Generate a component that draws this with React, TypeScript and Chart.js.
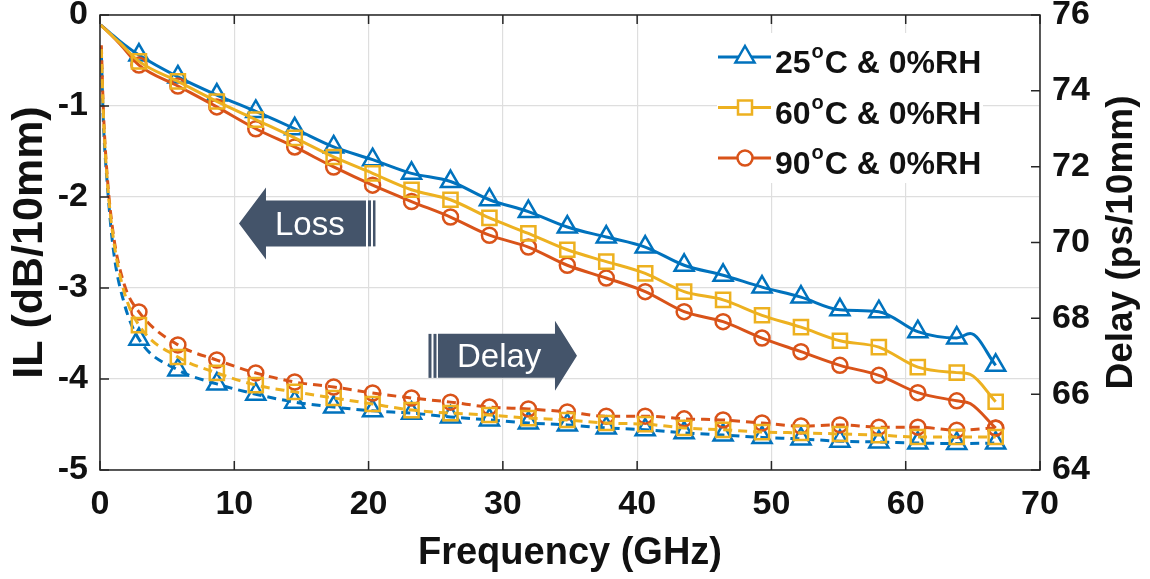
import React, { useEffect, useRef } from "react";
import { Chart, registerables } from "chart.js";

Chart.register(...registerables);

// ---------- data ----------
const markerFreq = [2.9, 5.8, 8.7, 11.6, 14.5, 17.4, 20.3, 23.2, 26.1, 29.0, 31.9, 34.8, 37.7, 40.6, 43.5, 46.4, 49.3, 52.2, 55.1, 58.0, 60.9, 63.8, 66.7];

const loss25 = [-0.44, -0.68, -0.88, -1.06, -1.25, -1.45, -1.59, -1.74, -1.83, -2.03, -2.16, -2.33, -2.44, -2.55, -2.75, -2.86, -2.99, -3.10, -3.24, -3.26, -3.48, -3.55, -3.85];
const loss60 = [-0.51, -0.73, -0.95, -1.15, -1.35, -1.56, -1.74, -1.92, -2.03, -2.23, -2.40, -2.58, -2.71, -2.84, -3.04, -3.13, -3.30, -3.43, -3.58, -3.65, -3.87, -3.93, -4.25];
const loss90 = [-0.55, -0.78, -1.01, -1.25, -1.45, -1.67, -1.87, -2.05, -2.22, -2.42, -2.55, -2.75, -2.89, -3.04, -3.26, -3.37, -3.55, -3.70, -3.85, -3.96, -4.15, -4.24, -4.54];

const delay25 = [67.45, 66.64, 66.27, 66.00, 65.79, 65.66, 65.56, 65.50, 65.40, 65.32, 65.24, 65.19, 65.11, 65.06, 64.98, 64.92, 64.86, 64.82, 64.76, 64.74, 64.71, 64.70, 64.71];
const delay60 = [67.82, 66.98, 66.56, 66.24, 66.06, 65.90, 65.74, 65.58, 65.50, 65.45, 65.37, 65.32, 65.24, 65.21, 65.11, 65.06, 65.00, 64.98, 64.95, 64.92, 64.87, 64.87, 64.87];
const delay90 = [68.17, 67.30, 66.90, 66.56, 66.32, 66.19, 66.03, 65.90, 65.79, 65.66, 65.61, 65.53, 65.42, 65.42, 65.35, 65.32, 65.24, 65.16, 65.19, 65.13, 65.13, 65.05, 65.11];

// curve points between 0 GHz and the first marker (no marker drawn)
const lossHeadFreq = [0.05, 0.7, 1.5];
const lossHead25 = [-0.11, -0.19, -0.29];
const lossHead60 = [-0.11, -0.2, -0.31];
const lossHead90 = [-0.11, -0.2, -0.32];

// knee just before the last marker (no marker drawn)
const lossKneeFreq = [64.8];
const lossKnee25 = [-3.5];
const lossKnee60 = [-3.95];
const lossKnee90 = [-4.27];

const delayHeadFreq = [0.1, 0.25, 0.55, 1.0, 1.8];
const delayHead25 = [75.0, 73.2, 71.5, 69.8, 68.4];
const delayHead60 = [75.1, 73.4, 71.6, 70.1, 68.7];
const delayHead90 = [75.2, 73.5, 71.7, 70.2, 68.9];

const legendTemps = ["25", "60", "90"];
const legendSuffix = "C & 0%RH";

const C25 = "#0072BD";
const C60 = "#EDB120";
const C90 = "#D95319";
const ARROW = "#44546A";
const FONT = "'Liberation Sans', Arial, Helvetica, sans-serif";

type P = { x: number; y: number; m: boolean };

function buildSeries(headX: number[], headY: number[], markY: number[], extraX: number[] = [], extraY: number[] = []): P[] {
  const pts: P[] = [];
  headX.forEach((x, i) => pts.push({ x, y: headY[i], m: false }));
  markerFreq.forEach((x, i) => pts.push({ x, y: markY[i], m: true }));
  extraX.forEach((x, i) => pts.push({ x, y: extraY[i], m: false }));
  pts.sort((a, b) => a.x - b.x);
  return pts;
}

function makeDataset(label: string, data: P[], color: string, style: string, radius: number, yAxisID: string, dashed: boolean, order: number) {
  return {
    label,
    data,
    yAxisID,
    order,
    borderColor: color,
    backgroundColor: color,
    borderWidth: 3,
    borderDash: dashed ? [9, 6] : [],
    cubicInterpolationMode: "monotone" as const,
    fill: false,
    pointStyle: style,
    pointRadius: (c: any) => (c.raw && c.raw.m ? radius : 0),
    pointHoverRadius: (c: any) => (c.raw && c.raw.m ? radius : 0),
    pointBorderColor: color,
    pointBackgroundColor: "rgba(255,255,255,0)",
    pointBorderWidth: 2.5,
  };
}

function drawMarker(ctx: CanvasRenderingContext2D, style: string, cx: number, cy: number) {
  ctx.beginPath();
  if (style === "triangle") {
    const r = 11;
    ctx.moveTo(cx, cy - r);
    ctx.lineTo(cx + r * 0.866, cy + r / 2);
    ctx.lineTo(cx - r * 0.866, cy + r / 2);
    ctx.closePath();
  } else if (style === "rect") {
    ctx.rect(cx - 7, cy - 7, 14, 14);
  } else {
    ctx.arc(cx, cy, 7.5, 0, Math.PI * 2);
  }
  ctx.fillStyle = "#fff";
  ctx.fill();
  ctx.stroke();
}

function arrowLeft(ctx: CanvasRenderingContext2D, tx: number, ty: number, text: string) {
  ctx.fillStyle = ARROW;
  ctx.beginPath();
  ctx.moveTo(tx, ty);
  ctx.lineTo(tx + 27, ty - 36);
  ctx.lineTo(tx + 27, ty - 23);
  ctx.lineTo(tx + 127, ty - 23);
  ctx.lineTo(tx + 127, ty + 23);
  ctx.lineTo(tx + 27, ty + 23);
  ctx.lineTo(tx + 27, ty + 36);
  ctx.closePath();
  ctx.fill();
  ctx.fillRect(tx + 129, ty - 23, 3, 46);
  ctx.fillRect(tx + 134, ty - 23, 2.5, 46);
  ctx.fillStyle = "#fff";
  ctx.font = `33px ${FONT}`;
  ctx.textAlign = "left";
  ctx.textBaseline = "alphabetic";
  ctx.fillText(text, tx + 36, ty + 12);
}

function arrowRight(ctx: CanvasRenderingContext2D, tx: number, ty: number, text: string) {
  ctx.fillStyle = ARROW;
  ctx.beginPath();
  ctx.moveTo(tx, ty);
  ctx.lineTo(tx - 22, ty - 35);
  ctx.lineTo(tx - 22, ty - 22);
  ctx.lineTo(tx - 139, ty - 22);
  ctx.lineTo(tx - 139, ty + 22);
  ctx.lineTo(tx - 22, ty + 22);
  ctx.lineTo(tx - 22, ty + 35);
  ctx.closePath();
  ctx.fill();
  ctx.fillRect(tx - 143.5, ty - 22, 3, 44);
  ctx.fillRect(tx - 148.5, ty - 22, 3, 44);
  ctx.fillStyle = "#fff";
  ctx.font = `33px ${FONT}`;
  ctx.textAlign = "left";
  ctx.textBaseline = "alphabetic";
  ctx.fillText(text, tx - 120, ty + 11);
}

const decorPlugin = {
  id: "decor",
  afterDatasetsDraw(chart: any) {
    const { ctx, chartArea: a, scales } = chart;
    const x = scales.x;
    const yL = scales.y;
    const yR = scales.y2;
    ctx.save();

    // annotation arrows
    arrowLeft(ctx, x.getPixelForValue(10.35), yL.getPixelForValue(-2.29), "Loss");
    arrowRight(ctx, x.getPixelForValue(35.52), yR.getPixelForValue(67.01), "Delay");

    // axes box
    ctx.strokeStyle = "#262626";
    ctx.lineWidth = 1.5;
    ctx.setLineDash([]);
    ctx.strokeRect(a.left, a.top, a.right - a.left, a.bottom - a.top);

    // inward tick marks
    ctx.beginPath();
    x.ticks.forEach((t: any) => {
      const px = x.getPixelForValue(t.value);
      ctx.moveTo(px, a.bottom);
      ctx.lineTo(px, a.bottom - 9);
      ctx.moveTo(px, a.top);
      ctx.lineTo(px, a.top + 9);
    });
    yL.ticks.forEach((t: any) => {
      const py = yL.getPixelForValue(t.value);
      ctx.moveTo(a.left, py);
      ctx.lineTo(a.left + 9, py);
    });
    yR.ticks.forEach((t: any) => {
      const py = yR.getPixelForValue(t.value);
      ctx.moveTo(a.right, py);
      ctx.lineTo(a.right - 9, py);
    });
    ctx.stroke();

    // legend
    const lgL = a.right - 323;
    const lgT = a.top + 18;
    ctx.fillStyle = "#fff";
    ctx.fillRect(lgL, lgT, 266, 150);
    const colors = [C25, C60, C90];
    const styles = ["triangle", "rect", "circle"];
    legendTemps.forEach((temp, i) => {
      const ry = lgT + 24 + i * 50.5;
      ctx.strokeStyle = colors[i];
      ctx.lineWidth = 3;
      ctx.beginPath();
      ctx.moveTo(lgL + 1, ry);
      ctx.lineTo(lgL + 54, ry);
      ctx.stroke();
      ctx.lineWidth = 2.5;
      drawMarker(ctx, styles[i], lgL + 28, ry);
      ctx.fillStyle = "#111";
      ctx.textAlign = "left";
      ctx.textBaseline = "alphabetic";
      ctx.font = `bold 32px ${FONT}`;
      let tx = lgL + 58;
      ctx.fillText(temp, tx, ry + 16);
      tx += ctx.measureText(temp).width + 1;
      ctx.font = `bold 20px ${FONT}`;
      ctx.fillText("o", tx, ry + 1);
      tx += ctx.measureText("o").width + 1;
      ctx.font = `bold 32px ${FONT}`;
      ctx.fillText(legendSuffix, tx, ry + 16);
    });

    // right axis title (reads bottom-to-top)
    ctx.fillStyle = "#111";
    ctx.font = `bold 37px ${FONT}`;
    ctx.textAlign = "center";
    ctx.textBaseline = "middle";
    ctx.translate(1122, (a.top + a.bottom) / 2);
    ctx.rotate(-Math.PI / 2);
    ctx.fillText("Delay (ps/10mm)", 0, 0);

    ctx.restore();
  },
};

const tickFont = { family: FONT, size: 34, weight: "bold" as const };
const gridColor = "#dedede";

export default function App() {
  const ref = useRef<HTMLCanvasElement>(null);

  useEffect(() => {
    const canvas = ref.current;
    if (!canvas) return;

    const datasets = [
      makeDataset("25°C & 0%RH", buildSeries(lossHeadFreq, lossHead25, loss25, lossKneeFreq, lossKnee25), C25, "triangle", 11, "y", false, 3),
      makeDataset("25°C delay", buildSeries(delayHeadFreq, delayHead25, delay25), C25, "triangle", 11, "y2", true, 3),
      makeDataset("90°C & 0%RH", buildSeries(lossHeadFreq, lossHead90, loss90, lossKneeFreq, lossKnee90), C90, "circle", 7.5, "y", false, 2),
      makeDataset("90°C delay", buildSeries(delayHeadFreq, delayHead90, delay90), C90, "circle", 7.5, "y2", true, 2),
      makeDataset("60°C & 0%RH", buildSeries(lossHeadFreq, lossHead60, loss60, lossKneeFreq, lossKnee60), C60, "rect", 10, "y", false, 1),
      makeDataset("60°C delay", buildSeries(delayHeadFreq, delayHead60, delay60), C60, "rect", 10, "y2", true, 1),
    ];

    const chart = new Chart(canvas, {
      type: "line",
      data: { datasets: datasets as any },
      options: {
        responsive: false,
        animation: false,
        devicePixelRatio: 1,
        layout: { padding: { top: 15, left: 0, right: 0, bottom: 0 } },
        plugins: { legend: { display: false }, tooltip: { enabled: false }, title: { display: false } },
        scales: {
          x: {
            type: "linear",
            min: 0,
            max: 70,
            ticks: { stepSize: 10, font: tickFont, color: "#111", padding: 14, maxRotation: 0, autoSkip: false },
            grid: { color: gridColor, lineWidth: 1.2, drawTicks: false },
            border: { display: false },
            title: { display: true, text: "Frequency (GHz)", font: { family: FONT, size: 38, weight: "bold" }, color: "#111", padding: { top: 0, bottom: 3 } },
            afterFit: (s: any) => {
              s.height = 109;
              s.paddingLeft = 0;
              s.paddingRight = 0;
            },
          },
          y: {
            type: "linear",
            position: "left",
            min: -5,
            max: 0,
            ticks: { stepSize: 1, font: tickFont, color: "#111", padding: 12 },
            grid: { color: gridColor, lineWidth: 1.2, drawTicks: false },
            border: { display: false },
            title: { display: true, text: "IL (dB/10mm)", font: { family: FONT, size: 43, weight: "bold" }, color: "#111", padding: { top: 4, bottom: 0 } },
            afterFit: (s: any) => {
              s.width = 100;
              s.paddingTop = 0;
              s.paddingBottom = 0;
            },
          },
          y2: {
            type: "linear",
            position: "right",
            min: 64,
            max: 76,
            ticks: { stepSize: 2, font: tickFont, color: "#111", padding: 12 },
            grid: { drawOnChartArea: false, drawTicks: false },
            border: { display: false },
            afterFit: (s: any) => {
              s.width = 110;
              s.paddingTop = 0;
              s.paddingBottom = 0;
            },
          },
        },
      },
      plugins: [decorPlugin],
    } as any);

    return () => chart.destroy();
  }, []);

  return (
    <div style={{ position: "absolute", left: 0, top: 0, width: 1150, height: 579, background: "#fff" }}>
      <canvas ref={ref} width={1150} height={579} style={{ display: "block", width: 1150, height: 579 }} />
    </div>
  );
}
